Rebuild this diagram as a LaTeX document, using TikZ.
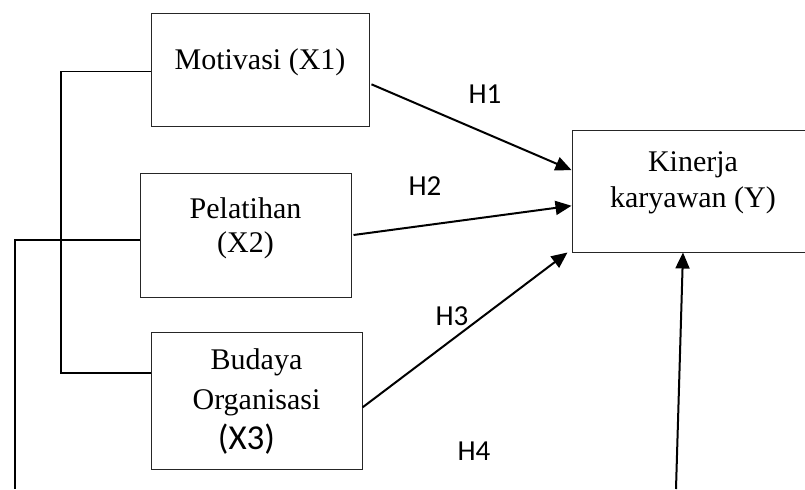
\documentclass[tikz,border=0pt]{standalone}
\usepackage{fontspec}
\setmainfont{Liberation Serif}
\newfontfamily\carlito{Carlito}
\usetikzlibrary{arrows.meta,calc}

\begin{document}
\begin{tikzpicture}[x=0.5pt,y=-0.5pt,
  every node/.style={font=\fontsize{15}{17}\selectfont},
  box/.style={draw=black!85,line width=0.5pt,inner sep=0pt},
  txt/.style={align=center},
  hyp/.style={font=\carlito\fontsize{14.5}{16}\selectfont},
  link/.style={line width=1pt,-{Triangle[length=8pt,width=7pt]}},
  bar/.style={line width=0.6pt}]
  \clip (0,0) rectangle (805,489);

  % variables
  \node[box,minimum width=109pt,minimum height=56.5pt,
    label={[txt,yshift=3.75pt]center:Motivasi (X1)}] (mot) at (260,69.5) {};
  \node[box,minimum width=105.5pt,minimum height=62pt,
    label={[txt,yshift=3.5pt]center:Pelatihan\\(X2)}] (pel) at (245.5,235) {};
  \node[box,minimum width=105.5pt,minimum height=68.5pt,
    label={[txt,font=\fontsize{15}{20}\selectfont,yshift=-0.5pt]center:Budaya\\Organisasi\\{\carlito\fontsize{17.5}{20}\selectfont(X3)\hspace*{10pt}}}] (bud) at (256.5,400.5) {};
  \node[box,minimum width=121pt,minimum height=61pt,
    label={[txt,font=\fontsize{15}{18}\selectfont,yshift=4pt]center:Kinerja\\karyawan (Y)}] (kin) at (693,191) {};

  % hypotheses
  \node[hyp] (h1) at (485,94) {H1};
  \node[hyp] (h2) at (425,186) {H2};
  \node[hyp] (h3) at (452,316) {H3};
  \node[hyp] (h4) at (474,451) {H4};

  % side lines
  \coordinate (brk) at (61,0);
  \coordinate (motin) at ($(mot.north west)!0.52!(mot.south west)$);
  \coordinate (budin) at ($(bud.north west)!0.3!(bud.south west)$);
  \draw[bar] (motin) -- (motin -| brk) -- (budin -| brk) -- (budin);
  \coordinate (pelin) at ($(pel.north west)!0.54!(pel.south west)$);
  \coordinate (low) at (15,489);
  \draw[bar] (pelin) -- (pelin -| low) -- (low);

  % arrows
  \draw[link] ($(mot.north east)!0.63!(mot.south east)+(2,0)$) -- ($(kin.north west)!0.33!(kin.south west)$);
  \draw[link] ($(pel.north east)!0.5!(pel.south east)+(2,0)$) -- ($(kin.north west)!0.62!(kin.south west)$);
  \draw[link] ($(bud.north east)!0.55!(bud.south east)$) -- ([xshift=-2pt]kin.south west);
  \coordinate (h4s) at (676,489);
  \draw[link] (h4s) -- ([xshift=-5pt]kin.south);
\end{tikzpicture}
\end{document}
